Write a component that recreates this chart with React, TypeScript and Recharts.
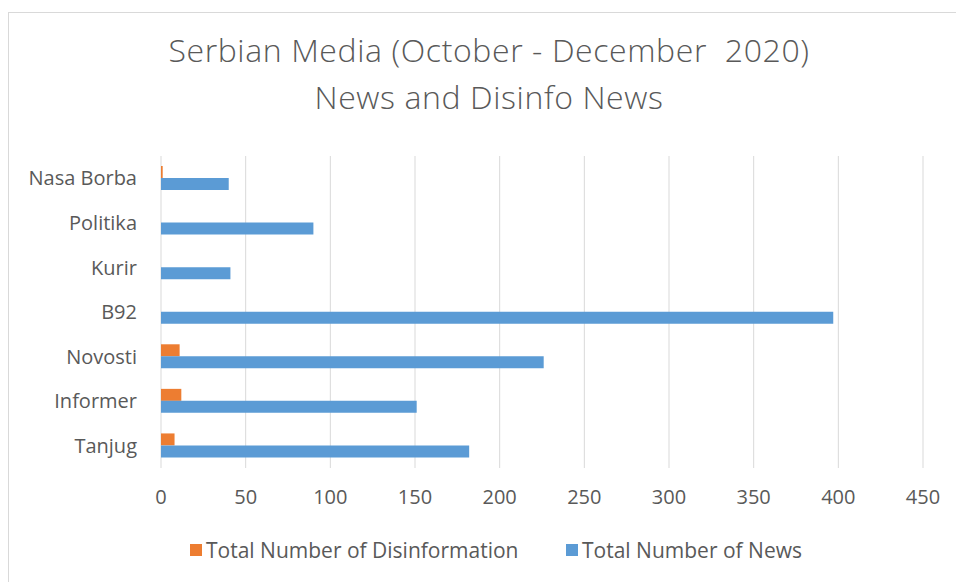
import React from "react";
import { BarChart, Bar, XAxis, YAxis, CartesianGrid, Legend } from "recharts";

const categories = ["Nasa Borba", "Politika", "Kurir", "B92", "Novosti", "Informer", "Tanjug"];
const disinfoValues = [1, 0, 0, 0, 11, 12, 8];
const newsValues = [40, 90, 41, 397, 226, 151, 182];
const xTicks = [0, 50, 100, 150, 200, 250, 300, 350, 400, 450];
const seriesNames = ["Total Number of Disinformation", "Total Number of News"];
const seriesColors = ["#ED7D31", "#5B9BD5"];

const data = categories.map((name, i) => ({
  name,
  disinfo: disinfoValues[i],
  news: newsValues[i],
}));

const FONT = "'Open Sans', sans-serif";
const TEXT = "#595959";

const renderLegend = () => (
  <div
    style={{
      position: "relative",
      height: 24,
      fontFamily: FONT,
      fontSize: 21,
      color: TEXT,
    }}
  >
    {seriesNames.map((n, i) => (
      <div
        key={n}
        style={{ position: "absolute", left: i === 0 ? 190 : 566, top: 0, height: 24, display: "flex", alignItems: "center", whiteSpace: "nowrap" }}
      >
        <span style={{ width: 12, height: 12, background: seriesColors[i], display: "inline-block", marginRight: 4 }} />
        <span>{n}</span>
      </div>
    ))}
  </div>
);

export default function App() {
  return (
    <div style={{ position: "absolute", left: 0, top: 0, width: 956, height: 582, background: "#fff", overflow: "hidden" }}>
      <div
        style={{
          position: "absolute",
          left: 8,
          top: 12,
          right: -2,
          bottom: -2,
          borderTop: "1px solid #d9d9d9",
          borderLeft: "1px solid #d9d9d9",
        }}
      />
      <div
        style={{
          position: "absolute",
          left: 0,
          width: 978,
          top: 26,
          textAlign: "center",
          fontFamily: FONT,
          fontWeight: 300,
          fontSize: 32,
          letterSpacing: 0.6,
          lineHeight: "47px",
          color: TEXT,
        }}
      >
        <div>Serbian Media (October - December&nbsp; 2020)</div>
        <div>News and Disinfo News</div>
      </div>
      <div style={{ position: "absolute", left: 0, top: 0 }}>
        <BarChart
          width={956}
          height={582}
          data={data}
          layout="vertical"
          barGap={0}
          margin={{ top: 156, right: 33, bottom: 60, left: 0 }}
        >
          <CartesianGrid horizontal={false} stroke="#d9d9d9" />
          <XAxis
            type="number"
            domain={[0, 450]}
            ticks={xTicks}
            axisLine={false}
            tickLine={false}
            tickSize={0}
            tickMargin={22}
            interval={0}
            tick={{ fill: TEXT, fontSize: 20, fontFamily: FONT }}
          />
          <YAxis
            type="category"
            dataKey="name"
            width={161}
            axisLine={false}
            tickLine={false}
            tickSize={0}
            tickMargin={24}
            interval={0}
            tick={{ fill: TEXT, fontSize: 20, fontFamily: FONT }}
          />
          <Legend
            content={renderLegend}
            wrapperStyle={{ position: "absolute", top: 538, left: 0, width: 956 }}
          />
          <Bar dataKey="disinfo" name={seriesNames[0]} fill={seriesColors[0]} barSize={12} isAnimationActive={false} />
          <Bar dataKey="news" name={seriesNames[1]} fill={seriesColors[1]} barSize={12} isAnimationActive={false} />
        </BarChart>
      </div>
    </div>
  );
}
